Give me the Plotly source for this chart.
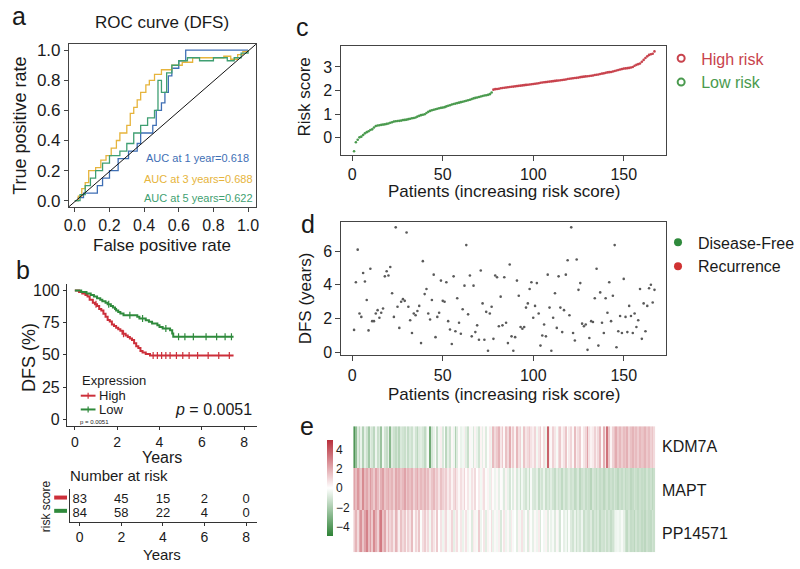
import plotly.graph_objects as go

W, H = 800, 569
FONT = "Liberation Sans, Arial, Helvetica, sans-serif"
TXT = "#1a1a1a"
AX = "#444444"

# ---------------- panel a : ROC curves ----------------
roc_names = ["AUC at 1 year=0.618", "AUC at 3 years=0.688", "AUC at 5 years=0.622"]
roc_colors = ["#3f6fb5", "#e6b43c", "#3f9f72"]
roc1_fpr = [0.00, 0.02, 0.05, 0.13, 0.16, 0.20, 0.25, 0.31, 0.36, 0.38, 0.45, 0.47, 0.50, 0.52, 0.54, 0.56, 0.60, 0.64, 1.00]
roc1_tpr = [0.00, 0.02, 0.05, 0.10, 0.15, 0.20, 0.28, 0.33, 0.38, 0.45, 0.50, 0.60, 0.65, 0.72, 0.83, 0.88, 0.93, 1.00, 1.00]
roc3_fpr = [0.00, 0.02, 0.04, 0.06, 0.08, 0.12, 0.15, 0.18, 0.21, 0.24, 0.26, 0.30, 0.32, 0.34, 0.36, 0.38, 0.41,
            0.43, 0.46, 0.50, 0.56, 0.62, 0.68, 0.80, 0.86, 0.90, 0.94, 0.97, 1.00]
roc3_tpr = [0.00, 0.03, 0.08, 0.12, 0.20, 0.22, 0.27, 0.30, 0.35, 0.40, 0.45, 0.50, 0.58, 0.62, 0.67, 0.72, 0.77,
            0.80, 0.84, 0.87, 0.90, 0.92, 0.95, 0.95, 0.96, 0.94, 0.97, 0.99, 1.00]
roc5_fpr = [0.00, 0.03, 0.06, 0.09, 0.12, 0.16, 0.20, 0.26, 0.30, 0.34, 0.38, 0.42, 0.46, 0.48, 0.50, 0.53, 0.56,
            0.60, 0.65, 0.72, 0.80, 0.88, 0.92, 0.96, 1.00]
roc5_tpr = [0.00, 0.04, 0.10, 0.15, 0.20, 0.25, 0.30, 0.33, 0.38, 0.45, 0.50, 0.55, 0.60, 0.80, 0.72, 0.85, 0.90,
            0.93, 0.95, 0.93, 0.95, 0.93, 0.95, 0.98, 1.00]
roc_ticks = [0.0, 0.2, 0.4, 0.6, 0.8, 1.0]

# ---------------- panel b : Kaplan-Meier ----------------
km_high_t = [0, 0.2, 0.35, 0.5, 0.6, 0.7, 0.85, 0.95, 1.05, 1.15, 1.25, 1.35, 1.45, 1.55, 1.65, 1.75, 1.85, 1.95,
             2.05, 2.15, 2.25, 2.4, 2.5, 2.6, 2.7, 2.8, 2.9, 3.0, 3.1, 3.2, 3.35, 3.55, 7.5]
km_high_s = [100, 98.8, 97.6, 96.4, 95.2, 92.8, 90.4, 89.2, 88.0, 85.6, 84.4, 81.9, 79.5, 77.1, 75.9, 73.5, 72.3, 71.1,
             69.9, 68.7, 66.3, 65.1, 63.9, 62.7, 61.5, 59.0, 56.6, 55.4, 53.0, 51.8, 50.6, 49.4, 49.4]
km_low_t = [0, 0.3, 0.55, 0.75, 0.9, 1.05, 1.2, 1.3, 1.45, 1.55, 1.7, 1.8, 1.9, 1.95, 2.05, 2.15, 2.3, 2.95, 3.05,
            3.35, 3.5, 3.65, 3.9, 4.0, 4.15, 4.5, 4.6, 4.65, 7.5]
km_low_s = [100, 98.8, 97.6, 96.4, 95.2, 94.0, 92.8, 91.6, 90.4, 89.2, 88.0, 86.8, 85.6, 84.4, 83.2, 82.0, 80.8, 79.5,
            78.2, 76.9, 75.6, 74.3, 73.0, 71.7, 70.4, 69.1, 66.5, 64.0, 64.0]
km_high_cens = [1.0, 2.3, 3.7, 3.9, 4.1, 4.3, 4.5, 4.8, 5.1, 5.4, 5.8, 6.3, 6.8, 7.3]
km_low_cens = [1.6, 2.6, 3.2, 4.3, 4.9, 5.2, 5.6, 6.2, 6.7, 7.1, 7.4]
km_groups = ["High", "Low"]
km_ticks_x = [0, 2, 4, 6, 8]
km_ticks_y = [0, 25, 50, 75, 100]
p_text = "p = 0.0051"

# number at risk table
risk_times = [0, 2, 4, 6, 8]
n_risk_high = [83, 45, 15, 2, 0]
n_risk_low = [84, 58, 22, 4, 0]

# ---------------- panel c : risk score ----------------
risk_score = [
    -0.57, -0.19, -0.08, 0.02, 0.05, 0.12, 0.19, 0.24, 0.28, 0.33,
    0.36, 0.44, 0.50, 0.52, 0.53, 0.55, 0.56, 0.57, 0.59, 0.61,
    0.64, 0.66, 0.69, 0.70, 0.71, 0.72, 0.73, 0.75, 0.76, 0.77,
    0.79, 0.81, 0.83, 0.84, 0.86, 0.90, 0.93, 0.96, 0.98, 1.00,
    1.05, 1.10, 1.14, 1.17, 1.19, 1.21, 1.23, 1.25, 1.27, 1.28,
    1.30, 1.33, 1.36, 1.38, 1.41, 1.43, 1.45, 1.47, 1.49, 1.51,
    1.53, 1.55, 1.57, 1.59, 1.61, 1.64, 1.67, 1.69, 1.71, 1.73,
    1.75, 1.77, 1.79, 1.80, 1.82, 1.85, 1.92, 2.04, 2.06, 2.07,
    2.08, 2.10, 2.11, 2.12, 2.13, 2.14, 2.15, 2.16, 2.17, 2.18,
    2.19, 2.20, 2.21, 2.22, 2.23, 2.24, 2.25, 2.26, 2.27, 2.28,
    2.29, 2.30, 2.31, 2.33, 2.34, 2.35, 2.36, 2.37, 2.38, 2.39,
    2.40, 2.41, 2.42, 2.43, 2.44, 2.45, 2.46, 2.47, 2.49, 2.50,
    2.51, 2.52, 2.53, 2.54, 2.55, 2.57, 2.58, 2.59, 2.60, 2.61,
    2.62, 2.63, 2.64, 2.66, 2.67, 2.68, 2.70, 2.72, 2.73, 2.75,
    2.77, 2.78, 2.79, 2.81, 2.83, 2.85, 2.87, 2.89, 2.91, 2.93,
    2.94, 2.95, 2.96, 2.98, 3.00, 3.05, 3.09, 3.12, 3.15, 3.22,
    3.30, 3.38, 3.45, 3.51, 3.54, 3.56, 3.66]
risk_cutoff = 2.0
patients = list(range(1, len(risk_score) + 1))

# ---------------- panel d : DFS time ----------------
dfs_years = [
    1.33, 4.15, 6.08, 2.30, 2.10, 4.70, 4.20, 3.10, 1.30, 4.95,
    1.85, 1.85, 2.30, 2.50, 2.05, 2.35, 2.60, 4.50, 4.80, 4.55,
    5.05, 3.50, 2.10, 7.40, 2.70, 1.45, 3.00, 3.15, 3.05, 7.10,
    2.70, 1.90, 1.15, 2.30, 2.20, 2.45, 2.75, 0.55, 5.40, 3.45,
    3.75, 2.30, 1.95, 3.10, 4.60, 0.90, 2.10, 2.35, 4.25, 3.05,
    3.00, 4.15, 1.85, 1.35, 0.50, 4.50, 1.25, 3.20, 1.75, 1.10,
    2.55, 3.95, 6.35, 2.25, 4.55, 0.95, 3.95, 1.20, 1.60, 0.75,
    4.85, 2.90, 0.75, 2.40, 0.10, 2.30, 2.70, 0.80, 4.55, 4.45,
    1.55, 3.30, 1.60, 4.45, 1.75, 0.55, 5.20, 0.95, 0.10, 0.90,
    4.25, 3.35, 1.50, 1.40, 1.50, 2.65, 2.90, 3.75, 4.15, 2.05,
    2.75, 4.10, 2.30, 0.40, 1.00, 1.65, 0.95, 4.60, 2.65, 0.10,
    2.05, 3.50, 1.45, 4.50, 2.65, 1.20, 2.50, 4.60, 5.45, 2.20,
    7.40, 1.15, 0.70, 5.50, 3.70, 4.10, 1.70, 1.55, 1.65, 0.15,
    0.85, 1.85, 1.80, 3.20, 4.95, 0.40, 3.55, 1.75, 1.15, 3.20,
    2.35, 4.15, 1.85, 3.35, 6.35, 0.30, 1.25, 2.15, 1.15, 4.35,
    2.10, 1.20, 2.75, 2.15, 1.15, 2.30, 1.50, 1.90, 3.75, 0.80,
    2.90, 1.25, 2.75, 3.80, 4.00, 2.95, 3.70]
status_names = ["Disease-Free", "Recurrence"]

# ---------------- panel e : heatmap ----------------
genes = ["KDM7A", "MAPT", "PP14571"]
expr_kdm7a = [
    -4.2, -2.6, -0.8, -1.5, -0.5, -1.8, -0.6, -1.2, -2.2, -0.7,
    -1.0, -1.6, -0.4, -1.3, -0.9, -2.4, -0.3, -1.1, -1.4, -0.6,
    -2.8, -0.8, -1.2, -1.5, -1.0, -1.7, -0.9, -1.1, -1.3, -0.6,
    -1.4, -0.9, -1.2, -0.5, -1.1, -1.6, -0.8, -0.7, -1.0, -1.5,
    -0.8, -0.2, -3.4, -1.0, -0.5, 0.1, -1.4, -0.3, 0.4, -0.9,
    -0.1, -1.6, -0.6, -1.2, 0.2, -0.4, -1.9, -0.8, 0.1, -0.5,
    -0.3, 0.4, -0.7, -1.3, 0.2, -0.2, -0.9, 0.3, -0.5, -1.1,
    0.3, -0.6, 0.2, -0.8, -0.1, 0.5, -0.4, 1.6, 0.9, 1.3,
    1.8, 0.6, 1.3, 0.2, 1.5, 0.9, 2.0, 0.5, 1.2, 0.3,
    1.7, 0.8, 1.1, -0.2, 1.4, 0.6, 0.9, 1.3, 0.7, 0.4,
    1.0, -0.3, 0.7, 1.2, 0.1, 0.8, -0.4, 3.8, 0.5, 0.2,
    1.1, 0.6, -0.2, 0.9, 1.3, 0.3, 0.7, 1.4, -0.1, 0.5,
    1.0, 0.2, 1.6, 0.4, 0.8, 1.2, 0.1, 0.6, 1.0, 2.2,
    0.7, 0.3, 0.5, 1.1, 0.4, 0.9, 1.7, 0.2, 1.9, 0.6,
    3.4, 1.4, 0.3, 1.1, 1.5, 2.0, 1.3, 1.7, 1.2, 1.6,
    1.4, 1.9, 1.1, 1.5, 1.8, 1.3, 1.6, 1.2, 1.7, 1.4,
    1.5, 1.8, 1.3, 1.6, 1.1, 1.4, 0.9]
expr_mapt = [
    2.2, 1.6, 2.5, 1.9, 1.4, 2.8, 1.7, 2.1, 1.5, 2.4,
    1.8, 1.3, 2.2, 1.6, 1.0, 1.9, 2.3, 1.4, 1.7, 2.0,
    1.5, 1.8, 1.2, 2.1, 1.6, 1.9, 1.4, 1.7, 2.2, 1.3,
    1.8, 1.5, 1.9, 1.1, 1.6, 2.0, 1.3, 1.7, 1.4, 1.8,
    1.2, 1.6, 0.9, 1.4, 1.7, 1.0, 1.3, 0.7, 1.5, 1.1,
    0.8, 1.2, 0.5, 1.0, 0.3, 0.9, 1.3, 0.6, 0.2, 0.8,
    0.4, 1.0, 0.1, 0.6, -0.2, 0.7, 0.3, 0.9, 0.0, 0.5,
    -0.3, 0.4, 0.8, -0.1, 0.3, -0.5, 0.6, 0.1, -0.4, 0.2,
    -0.6, 0.1, -0.2, -0.8, 0.3, -0.5, -1.0, -0.1, -0.7, 0.2,
    -0.9, -0.4, -1.2, -0.3, -0.8, -1.1, -0.5, -1.3, -0.2, -0.9,
    -1.0, -0.6, -1.4, -0.8, -1.1, -0.5, -1.3, -0.9, -1.2, -0.7,
    -1.1, -1.4, -0.8, -1.2, -1.0, -1.5, -0.9, -1.3, -1.1, -0.8,
    -1.2, -1.0, -1.5, -1.3, -0.9, -1.6, -1.2, -1.0, -1.4, -1.1,
    -1.3, -1.7, -1.0, -1.2, -1.5, -1.1, -1.4, -1.2, -1.6, -1.3,
    -1.1, -1.5, -1.2, -1.4, -1.0, -1.3, -1.6, -1.2, -1.4, -1.1,
    -1.5, -1.3, -1.2, -1.6, -1.4, -1.1, -1.3, -1.5, -1.2, -1.4,
    -1.3, -1.5, -1.1, -1.4, -1.2, -1.6, -1.3]
expr_pp14571 = [
    1.2, 1.8, 0.9, 2.0, 2.6, 1.4, 2.2, 3.0, 1.6, 2.4,
    1.3, 2.8, 1.9, 1.1, 2.5, 3.2, 1.5, 2.1, 0.8, 1.7,
    1.0, 1.4, 0.6, 1.8, 1.2, 0.4, 1.5, 0.9, 1.3, 0.3,
    1.1, 0.7, 1.6, 0.2, 1.0, 0.5, 1.4, -0.1, 0.8, 1.2,
    0.4, 0.9, -0.3, 1.1, 0.6, 0.2, 1.3, 0.0, 0.7, -0.4,
    0.5, 0.9, -0.2, 0.3, 1.0, -0.6, 0.4, 0.8, -0.1, 0.6,
    -0.5, 0.2, 0.7, -0.3, 0.1, -0.8, 0.5, 0.3, -0.2, 1.2,
    -0.4, 0.0, 0.6, -0.7, 0.3, -0.1, 0.8, -0.5, 0.2, -0.3,
    0.4, -0.9, 0.1, 0.6, -0.4, 0.2, -0.6, 0.5, -0.2, 0.0,
    -0.7, 0.3, -0.3, 0.7, -0.5, 0.1, -0.8, 0.4, -0.1, -0.6,
    0.2, -0.4, 0.5, -0.9, 0.0, -0.3, 0.3, -0.7, 0.1, -0.5,
    -0.2, -0.8, 0.2, -0.4, -1.0, 0.0, -0.6, -0.3, -0.9, -0.1,
    -0.8, -1.1, -0.5, -1.2, -0.7, -1.0, -0.4, -1.3, -0.9, -1.1,
    -1.2, -0.8, -1.4, -1.0, -1.3, -0.9, -1.5, -1.1, -1.2, -0.8,
    -1.3, -1.0, -1.4, -1.1, -0.7, -0.4, -0.3, -0.5, -0.2, -0.6,
    -1.2, -1.5, -1.0, -1.4, -1.3, -1.6, -1.1, -1.4, -1.2, -1.5,
    -1.3, -1.6, -1.2, -1.4, -1.5, -1.1, -1.3]
cbar_ticks = [-4, -2, 0, 2, 4]

RED = "#cc2f3a"
GREEN = "#2f8a3c"
C_RED = "#c8434d"
C_GREEN = "#4a9a4e"


def px(x):
    return x / W


def py(y):
    return 1 - y / H


def surv_at(times, survs, t):
    s = survs[0]
    for ti, si in zip(times, survs):
        if ti <= t:
            s = si
    return s


fig = go.Figure()

# ---- a: ROC ----
for fpr, tpr, col, nm in zip([roc1_fpr, roc3_fpr, roc5_fpr], [roc1_tpr, roc3_tpr, roc5_tpr], roc_colors, roc_names):
    fig.add_trace(go.Scatter(x=fpr, y=tpr, mode="lines", line=dict(color=col, width=1.3, shape="hv"),
                             xaxis="x", yaxis="y", showlegend=False, name=nm))

# ---- b: KM ----
fig.add_trace(go.Scatter(x=km_high_t, y=km_high_s, mode="lines", line=dict(color=RED, width=2, shape="hv"),
                         xaxis="x2", yaxis="y2", showlegend=False))
fig.add_trace(go.Scatter(x=km_low_t, y=km_low_s, mode="lines", line=dict(color=GREEN, width=2, shape="hv"),
                         xaxis="x2", yaxis="y2", showlegend=False))
fig.add_trace(go.Scatter(x=km_high_cens, y=[surv_at(km_high_t, km_high_s, t) for t in km_high_cens],
                         mode="markers", marker=dict(symbol="line-ns", size=5, line=dict(color=RED, width=1.2)),
                         xaxis="x2", yaxis="y2", showlegend=False))
fig.add_trace(go.Scatter(x=km_low_cens, y=[surv_at(km_low_t, km_low_s, t) for t in km_low_cens],
                         mode="markers", marker=dict(symbol="line-ns", size=5, line=dict(color=GREEN, width=1.2)),
                         xaxis="x2", yaxis="y2", showlegend=False))

# ---- table ----
fig.add_trace(go.Scatter(x=risk_times, y=[2] * len(risk_times), text=[str(v) for v in n_risk_high], mode="text",
                         textfont=dict(size=13, color=TXT), xaxis="x3", yaxis="y3", showlegend=False))
fig.add_trace(go.Scatter(x=risk_times, y=[1] * len(risk_times), text=[str(v) for v in n_risk_low], mode="text",
                         textfont=dict(size=13, color=TXT), xaxis="x3", yaxis="y3", showlegend=False))

# ---- c: risk score ----
score_cols = [C_RED if s >= risk_cutoff else C_GREEN for s in risk_score]
fig.add_trace(go.Scatter(x=patients, y=risk_score, mode="markers",
                         marker=dict(symbol="circle", size=2.6, color=score_cols, line=dict(width=0)),
                         xaxis="x4", yaxis="y4", showlegend=False))
fig.add_trace(go.Scatter(x=[None], y=[None], mode="markers", name=f"<span style='color:{C_RED}'>High risk</span>",
                         marker=dict(symbol="circle-open", size=7, color=C_RED, line=dict(width=2, color=C_RED)),
                         xaxis="x4", yaxis="y4", legend="legend2"))
fig.add_trace(go.Scatter(x=[None], y=[None], mode="markers", name=f"<span style='color:{C_GREEN}'>Low risk</span>",
                         marker=dict(symbol="circle-open", size=7, color=C_GREEN, line=dict(width=2, color=C_GREEN)),
                         xaxis="x4", yaxis="y4", legend="legend2"))

# ---- d: DFS scatter ----
fig.add_trace(go.Scatter(x=patients, y=dfs_years, mode="markers", marker=dict(size=2.6, color="#5a5a5a"),
                         xaxis="x5", yaxis="y5", showlegend=False))
fig.add_trace(go.Scatter(x=[None], y=[None], mode="markers", name=status_names[0],
                         marker=dict(size=8, color=GREEN), xaxis="x5", yaxis="y5", legend="legend3"))
fig.add_trace(go.Scatter(x=[None], y=[None], mode="markers", name=status_names[1],
                         marker=dict(size=8, color="#d03232"), xaxis="x5", yaxis="y5", legend="legend3"))

# ---- e: heatmap ----
fig.add_trace(go.Heatmap(
    z=[expr_kdm7a, expr_mapt, expr_pp14571], x=patients, y=genes,
    zmin=-5, zmax=5,
    colorscale=[[0, "#2e8236"], [0.5, "#ffffff"], [1, "#b82f3b"]],
    xaxis="x6", yaxis="y6",
    colorbar=dict(x=px(327), xanchor="left", y=py(493), yanchor="middle", len=96, lenmode="pixels",
                  thickness=6, thicknessmode="pixels", xpad=0, ypad=0, outlinewidth=0,
                  tickvals=cbar_ticks, ticks="", tickfont=dict(size=12, color=TXT, family=FONT)),
))

box = dict(showline=True, linecolor=AX, linewidth=1, mirror=True, ticks="outside", ticklen=4, tickcolor=AX,
           showgrid=False, zeroline=False, tickfont=dict(size=16, color=TXT, family=FONT))
gg = dict(showline=True, linecolor="#333", linewidth=1, mirror=False, ticks="outside", ticklen=3, tickcolor="#333",
          showgrid=False, zeroline=False, tickfont=dict(size=14, color=TXT, family=FONT))
cd_font = dict(size=16, color=TXT, family=FONT)

layout = dict(
    width=W, height=H, margin=dict(l=0, r=0, t=0, b=0),
    paper_bgcolor="white", plot_bgcolor="white",
    font=dict(family=FONT, color=TXT),
    xaxis=dict(box, domain=[px(65), px(255)], range=[-0.034, 1.045], tickvals=roc_ticks, tickformat=".1f",
               anchor="y"),
    yaxis=dict(box, domain=[py(207), py(42)], range=[-0.04, 1.039], tickvals=roc_ticks, tickformat=".1f",
               tickfont=dict(size=17, color=TXT, family=FONT), anchor="x"),
    xaxis2=dict(gg, domain=[px(63), px(256)], range=[-0.372, 8.6], tickvals=km_ticks_x, anchor="y2"),
    yaxis2=dict(gg, domain=[py(429.5), py(285.5)], range=[-5, 105], tickvals=km_ticks_y,
                tickfont=dict(size=16, color=TXT, family=FONT), anchor="x2"),
    xaxis3=dict(gg, domain=[px(66), px(256)], range=[-0.473, 8.52], tickvals=risk_times, anchor="y3"),
    yaxis3=dict(showline=True, linecolor="#333", linewidth=1, showticklabels=False, ticks="", showgrid=False,
                zeroline=False, domain=[py(527), py(494)], range=[0.467, 2.733], anchor="x3"),
    xaxis4=dict(box, domain=[px(342), px(672)], range=[-5.98, 173.4], tickvals=[0, 50, 100, 150],
                tickfont=cd_font, ticklen=5, anchor="y4"),
    yaxis4=dict(box, domain=[py(154), py(44)], range=[-0.708, 3.875], tickvals=[0, 1, 2, 3],
                tickfont=cd_font, ticklen=5, anchor="x4"),
    xaxis5=dict(box, domain=[px(342), px(672)], range=[-5.98, 173.4], tickvals=[0, 50, 100, 150],
                tickfont=cd_font, ticklen=5, anchor="y5"),
    yaxis5=dict(box, domain=[py(358), py(223)], range=[-0.175, 7.69], tickvals=[0, 2, 4, 6],
                tickfont=cd_font, ticklen=5, anchor="x5"),
    xaxis6=dict(domain=[px(354), px(661)], range=[0.5, len(patients) + 0.5], visible=False, anchor="y6"),
    yaxis6=dict(domain=[py(558), py(430)], autorange="reversed", visible=False, anchor="x6"),
    legend2=dict(x=px(667), y=py(39), xanchor="left", yanchor="top", font=dict(size=16, family=FONT),
                 bgcolor="rgba(0,0,0,0)", tracegroupgap=0),
    legend3=dict(x=px(664), y=py(226), xanchor="left", yanchor="top", font=dict(size=16, color=TXT, family=FONT),
                 bgcolor="rgba(0,0,0,0)", tracegroupgap=0),
)


def ann(text, x, y, size, xanchor="center", color=TXT, angle=0):
    return dict(text=text, x=px(x), y=py(y), xref="paper", yref="paper", xanchor=xanchor, yanchor="middle",
                showarrow=False, textangle=angle, font=dict(size=size, color=color, family=FONT))


annotations = [
    ann("a", 14, 13, 25), ann("b", 18, 271, 25), ann("c", 302, 24, 25), ann("d", 308, 225, 25),
    ann("e", 307, 430, 25),
    ann("ROC curve (DFS)", 160, 20, 17),
    ann("True positive rate", 15, 125, 18, angle=-90),
    ann("False positive rate", 160, 246, 17),
    ann(roc_names[0], 141, 157, 11, "left", roc_colors[0]),
    ann(roc_names[1], 139, 179, 11, "left", roc_colors[1]),
    ann(roc_names[2], 139, 198, 11, "left", roc_colors[2]),
    ann("DFS (%)", 25, 360, 18, angle=-90),
    ann("Years", 160, 462, 16),
    ann("Expression", 76, 384, 13, "left"),
    ann(km_groups[0], 94, 399, 13, "left"),
    ann(km_groups[1], 94, 413, 13, "left"),
    ann("<i>p</i>" + p_text[1:], 253, 413, 16, "right"),
    ann(p_text, 74, 426, 6, "left"),
    ann("Number at risk", 64, 480, 15, "left"),
    ann("risk score", 42, 511, 12, angle=-90),
    ann("Years", 160, 560, 15),
    ann("Risk score", 304, 96, 17, angle=-90),
    ann("Patients (increasing risk score)", 507, 192, 17),
    ann("DFS (years)", 305, 300, 17, angle=-90),
    ann("Patients (increasing risk score)", 507, 398, 17),
    ann(genes[0], 666, 451, 16, "left"),
    ann(genes[1], 666, 495, 16, "left"),
    ann(genes[2], 666, 539, 16, "left"),
]
layout["annotations"] = annotations


def hline(x0, x1, y, color, width):
    return dict(type="line", xref="paper", yref="paper", x0=px(x0), x1=px(x1), y0=py(y), y1=py(y),
                line=dict(color=color, width=width))


shapes = [
    dict(type="line", xref="x domain", yref="y domain", x0=0, y0=0, x1=1, y1=1, line=dict(color="#111", width=1)),
    hline(77, 92, 399, RED, 2), hline(77, 92, 413, GREEN, 2),
    dict(type="line", xref="paper", yref="paper", x0=px(84.5), x1=px(84.5), y0=py(396), y1=py(402),
         line=dict(color=RED, width=1.2)),
    dict(type="line", xref="paper", yref="paper", x0=px(84.5), x1=px(84.5), y0=py(410), y1=py(416),
         line=dict(color=GREEN, width=1.2)),
    hline(50, 63, 502.5, RED, 4), hline(50, 63, 516, GREEN, 4),
]
layout["shapes"] = shapes

fig.update_layout(**layout)
fig.write_html("out.html", config={"displayModeBar": False},
               post_script="document.body.style.margin='0';document.body.style.overflow='hidden';")
